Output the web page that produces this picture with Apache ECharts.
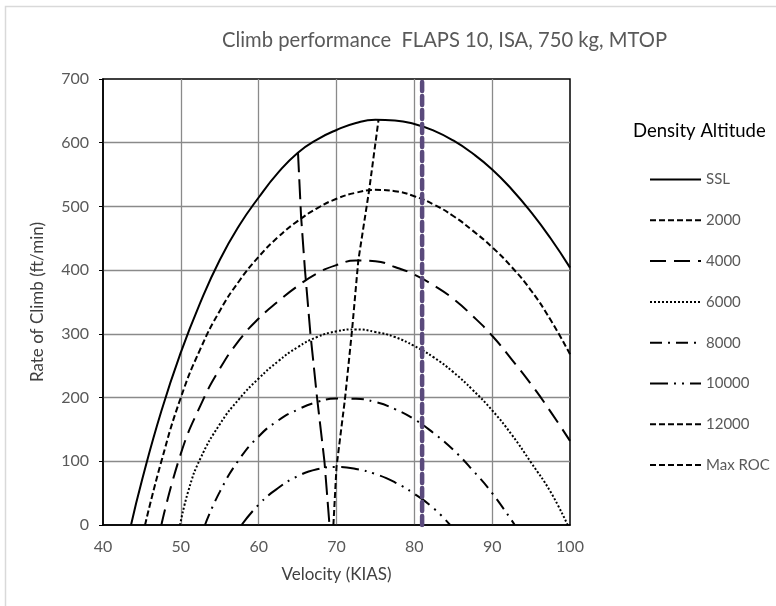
<!DOCTYPE html>
<html>
<head>
<meta charset="utf-8">
<script src="https://cdn.jsdelivr.net/npm/echarts@6/dist/echarts.min.js"></script>
<style>
html,body{margin:0;padding:0;background:#fff;}
#chart{width:776px;height:606px;}
</style>
</head>
<body>
<div id="chart"></div>
<script>
// ---- Data ----
const xTicks = [40, 100, 10];   // min, max, interval (KIAS)
const yTicks = [0, 700, 100];   // min, max, interval (ft/min)

const legendNames = ['SSL', '2000', '4000', '6000', '8000', '10000', '12000', 'Max ROC'];

const ssl = [[43.6,0],[45,70],[47.5,179],[50,271],[52.5,349],[55,416],[57.5,470],[60,514],[62.5,553],[65,584],[67.5,605],[70,620],[72.5,631],[75,636],[77.5,635],[80,629.5],[82.5,619],[85,603.5],[87.5,583],[90,558],[92.5,527],[95,491],[97.5,450],[100,404]];
const alt2000 = [[45.4,0],[47.5,100],[50,200],[52.5,276],[55,336],[57.5,383],[60,421],[62.5,452],[65,477],[67.5,497],[70,512],[72.5,521.5],[75,526],[77.5,524],[80,516],[82.5,503],[85,485],[87.5,462],[90,436],[92.5,405],[95,368],[97.5,322],[100,268]];
const alt4000 = [[47.5,0],[50,112],[52.5,187],[55,245],[57.5,290],[60,324],[62.5,351],[65,375],[67.5,395],[70,408],[72.5,415],[75,414],[77.5,405],[80,393],[82.5,376],[85,355],[87.5,328],[90,297],[92.5,260],[95,221],[97.5,178],[100,132]];
const alt6000 = [[49.9,0],[51,55],[52.5,104],[55,158],[57.5,198],[60,230],[62.5,257],[65,279],[67.5,295],[70,304],[72.5,307],[75,303],[77.5,295],[80,281],[82.5,263],[85,240],[87.5,212],[90,180],[92.5,142],[95,98],[97.5,52],[99.7,0]];
const alt8000 = [[53.1,0],[55,52],[57.5,103],[60,139],[62.5,164],[65,181],[67.5,193],[70,198.5],[72.5,198],[75,193],[77.5,182],[80,166],[82.5,144],[85,118],[87.5,86],[90,50],[92.9,0]];
const alt10000 = [[57.8,0],[60,32],[62.5,58],[65,76.5],[67.5,87.5],[70,91],[72.5,88],[75,80],[77.5,67],[80,49],[82.5,26],[84.6,0]];
const alt12000 = [];
const maxRoc = [[69.6,0],[70,91],[71.1,199],[72,306],[72.8,415],[74.2,526],[75.4,636]];
const bestAngle = [[65.05,585],[65.45,484],[65.95,400],[66.65,300],[67.5,200],[68.45,100],[69.1,0]];
const vLine = [[81,0],[81,700]];

const FONT = 'Lato';
const chart = echarts.init(document.getElementById('chart'), null, {renderer: 'canvas'});

function curve(name, data, dash, smooth) {
  return {
    name: name, type: 'line', data: data, symbol: 'none', showSymbol: false,
    smooth: smooth,
    lineStyle: {color: '#000', width: 2, type: dash},
    itemStyle: {color: '#000'},
    emphasis: {disabled: true}, silent: true, animation: false, z: 3
  };
}

const option = {
  animation: false,
  backgroundColor: '#fff',
  title: [
    {text: 'Climb performance  FLAPS 10, ISA, 750 kg, MTOP', left: 217, top: 25,
     textStyle: {fontFamily: FONT, fontSize: 20.2, fontWeight: 'normal', color: '#595959'}},
    {text: 'Density Altitude', left: 628, top: 117,
     textStyle: {fontFamily: FONT, fontSize: 18.5, fontWeight: 'normal', color: '#000'}}
  ],
  graphic: [{
    type: 'rect', shape: {x: 5.5, y: 6.5, width: 800, height: 700},
    style: {fill: 'none', stroke: '#d9d9d9', lineWidth: 1.5}, silent: true, z: -1
  }],
  legend: {
    orient: 'vertical', left: 644, top: 167,
    itemWidth: 51, itemHeight: 14, itemGap: 25.8,
    data: legendNames,
    itemStyle: {opacity: 0},
    textStyle: {fontFamily: FONT, fontSize: 15, color: '#595959'},
    selectedMode: false
  },
  grid: {left: 103, right: 206, top: 79, bottom: 81, show: true, borderColor: '#000', borderWidth: 1.5, backgroundColor: 'transparent'},
  xAxis: {
    type: 'value', min: xTicks[0], max: xTicks[1], interval: xTicks[2],
    name: 'Velocity (KIAS)', nameLocation: 'middle', nameGap: 41,
    nameTextStyle: {fontFamily: FONT, fontSize: 17, color: '#404040'},
    axisLine: {show: true, lineStyle: {color: '#000', width: 1.5}},
    axisTick: {show: false},
    axisLabel: {fontFamily: FONT, fontSize: 16, color: '#595959', margin: 14},
    splitLine: {show: true, showMinLine: false, showMaxLine: false, lineStyle: {color: '#8a8a8a', width: 1.3}}
  },
  yAxis: {
    type: 'value', min: yTicks[0], max: yTicks[1], interval: yTicks[2],
    name: 'Rate of Climb (ft/min)', nameLocation: 'middle', nameGap: 57, nameRotate: 90,
    nameTextStyle: {fontFamily: FONT, fontSize: 17, color: '#404040'},
    axisLine: {show: true, lineStyle: {color: '#000', width: 1.5}},
    axisTick: {show: true, length: 4, lineStyle: {color: '#000'}},
    axisLabel: {fontFamily: FONT, fontSize: 16, color: '#595959', margin: 14},
    splitLine: {show: true, showMinLine: false, showMaxLine: false, lineStyle: {color: '#8a8a8a', width: 1.3}}
  },
  series: [
    curve('SSL', ssl, 'solid', 0.5),
    curve('2000', alt2000, [6,3], 0.5),
    curve('4000', alt4000, [16,8], 0.5),
    curve('6000', alt6000, [2,2], 0.5),
    curve('8000', alt8000, [12,6,2,6], 0.5),
    curve('10000', alt10000, [18,6,2,6,2,6], 0.5),
    curve('12000', alt12000, [6,3], 0.5),
    curve('Max ROC', maxRoc, [6,3], false),
    curve('Best angle', bestAngle, [20,7], false),
    {
      name: 'Vline', type: 'line', data: vLine, symbol: 'none', silent: true, animation: false, z: 4,
      lineStyle: {color: '#5a4a7c', width: 4.5, type: [9,5], cap: 'round'}
    }
  ]
};
chart.setOption(option);
</script>
</body>
</html>
